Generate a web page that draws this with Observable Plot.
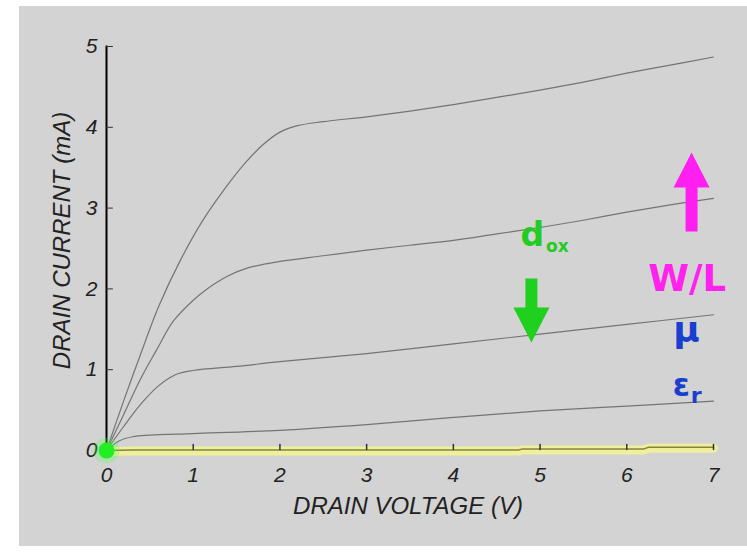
<!DOCTYPE html>
<html>
<head>
<meta charset="utf-8">
<script src="https://cdn.jsdelivr.net/npm/d3@7"></script>
<script src="https://cdn.jsdelivr.net/npm/@observablehq/plot@0.6"></script>
<style>
  html, body { margin: 0; padding: 0; background: #ffffff; }
  #wrap { position: relative; width: 747px; height: 555px; background: #ffffff; overflow: hidden; }
  #panel { position: absolute; left: 19px; top: 6px; width: 728px; height: 540px; background: #d3d3d3; }
  #chart { position: absolute; left: 0; top: 0; }
</style>
</head>
<body>
<div id="wrap"><div id="panel"></div><div id="chart"></div></div>
<script>
// ---- data ----
const xTicks = [0, 1, 2, 3, 4, 5, 6, 7];
const yTicks = [0, 1, 2, 3, 4, 5];
const xTitle = "DRAIN VOLTAGE (V)";
const yTitle = "DRAIN CURRENT (mA)";

const vA = [0, 0.2, 0.43, 0.6, 0.85, 1.1, 1.35, 1.6, 1.8, 2.0, 2.2, 2.5, 3, 3.5, 4, 4.5, 5, 5.5, 6, 6.5, 7];
const iA = [0, 0.62, 1.3, 1.78, 2.35, 2.83, 3.22, 3.56, 3.78, 3.94, 4.02, 4.07, 4.13, 4.2, 4.28, 4.37, 4.46, 4.56, 4.67, 4.77, 4.87];

const vB = [0, 0.2, 0.4, 0.57, 0.77, 1.0, 1.16, 1.4, 1.63, 2.0, 2.5, 3, 3.5, 4, 4.5, 5, 5.5, 6, 6.5, 7];
const iB = [0, 0.45, 0.9, 1.23, 1.6, 1.86, 2.0, 2.16, 2.26, 2.34, 2.41, 2.48, 2.54, 2.6, 2.68, 2.76, 2.85, 2.95, 3.04, 3.12];

const vC = [0, 0.2, 0.4, 0.6, 0.8, 1.0, 1.5, 2, 3, 4, 5, 6, 7];
const iC = [0, 0.3, 0.58, 0.8, 0.94, 0.99, 1.04, 1.1, 1.2, 1.32, 1.44, 1.56, 1.68];

const vD = [0, 0.15, 0.3, 0.5, 1, 2, 3, 4, 5, 6, 7];
const iD = [0, 0.12, 0.17, 0.19, 0.21, 0.25, 0.32, 0.41, 0.49, 0.55, 0.61];

const vE = [0, 0.3, 4.75, 4.8, 6.2, 6.25, 7];
const iE = [0, 0.005, 0.005, 0.02, 0.02, 0.04, 0.04];

// annotation labels and their anchor points (data units)
const annoLabels = ["d", "ox", "W/L", "\u03BC", "\u03B5", "r"];
const annoV = [4.91, 5.2, 6.696, 6.69, 6.63, 6.8];
const annoI = [2.667, 2.52, 2.116, 1.48, 0.80, 0.68];

// arrow tails (data units)
const arrowV = [4.90, 6.747];
const arrowI = [2.129, 2.71];

// ---- build tables ----
const zip = (vs, is) => vs.map((v, k) => ({v, i: is[k]}));
const curves = [zip(vA, iA), zip(vB, iB), zip(vC, iC), zip(vD, iD)];
const curveE = zip(vE, iE);

const blockArrow = (shaft, headW, headL) => ({
  draw(context, l) {
    const s = shaft / 2, h = headW / 2, b = -(l - headL);
    context.moveTo(-s, 0);
    context.lineTo(-s, b);
    context.lineTo(-h, b);
    context.lineTo(0, -l);
    context.lineTo(h, b);
    context.lineTo(s, b);
    context.lineTo(s, 0);
    context.closePath();
  }
});

const labelFont = "Liberation Sans, Arial, sans-serif";
const annoFont = "DejaVu Sans, sans-serif";
const idx = (k) => [k];
const tickLine = {draw(c, l) { c.moveTo(0, 0); c.lineTo(0, -l); }};

const marks = [
  // near-zero curve with yellow highlight
  Plot.line(curveE, {x: "v", y: "i", stroke: "#efef9e", strokeWidth: 9, curve: "linear", dy: 1}),
  Plot.line(curveE, {x: "v", y: "i", stroke: "#85853e", strokeWidth: 1.5, curve: "linear"}),
  // characteristic curves
  ...curves.map(c => Plot.line(c, {x: "v", y: "i", stroke: "#747474", strokeWidth: 1.2, curve: "catmull-rom"})),
  // y axis line
  Plot.frame({anchor: "left", stroke: "#000000", strokeWidth: 2}),
  // inward tick marks
  Plot.vector(yTicks, {x: 0, y: d => d, length: 6, rotate: 90, anchor: "start", stroke: "#333", strokeWidth: 1, shape: tickLine}),
  Plot.vector(xTicks.filter(d => d > 0), {x: d => d, y: 0, length: 5, rotate: 0, anchor: "start", dy: -1, stroke: "#333", strokeWidth: 1.5, shape: tickLine}),
  // tick labels
  Plot.axisY(yTicks, {tickSize: 0, tickPadding: 9, tickFormat: d3.format("d"), fontSize: 21, fontStyle: "italic", fontFamily: labelFont, fill: "#222", label: null}),
  Plot.axisX(xTicks, {tickSize: 0, tickPadding: 17, tickFormat: d3.format("d"), fontSize: 21, fontStyle: "italic", fontFamily: labelFont, fill: "#222", label: null}),
  // axis titles
  Plot.text([xTitle], {frameAnchor: "bottom", dx: -2, dy: 56, lineAnchor: "middle", textAnchor: "middle", fontSize: 24, fontStyle: "italic", fontFamily: labelFont, fill: "#222"}),
  Plot.text([yTitle], {frameAnchor: "left", dx: -44, dy: -8, rotate: -90, lineAnchor: "middle", textAnchor: "middle", fontSize: 24, fontStyle: "italic", fontFamily: labelFont, fill: "#222"}),
  // green dot at origin
  Plot.dot([0], {x: 0, y: 0, r: 13, fill: "#44ff44", fillOpacity: 0.25, stroke: "none"}),
  Plot.dot([0], {x: 0, y: 0, r: 8, fill: "#22ee22", stroke: "none"}),
  // arrows
  Plot.vector(idx(0), {x: k => arrowV[k], y: k => arrowI[k], length: 64, rotate: 180, anchor: "start", fill: "#1fd01f", stroke: "none", shape: blockArrow(12, 36, 35)}),
  Plot.vector(idx(1), {x: k => arrowV[k], y: k => arrowI[k], length: 79, rotate: 0, anchor: "start", fill: "#ff1ff0", stroke: "none", shape: blockArrow(12, 36, 35)}),
  // annotation texts
  Plot.text(idx(0), {x: k => annoV[k], y: k => annoI[k], text: k => annoLabels[k], fontSize: 33, fontWeight: "bold", fontFamily: annoFont, fill: "#22cc22", lineAnchor: "middle"}),
  Plot.text(idx(1), {x: k => annoV[k], y: k => annoI[k], text: k => annoLabels[k], fontSize: 17, fontWeight: "bold", fontFamily: annoFont, fill: "#22cc22", lineAnchor: "middle"}),
  Plot.text(idx(2), {x: k => annoV[k], y: k => annoI[k], text: k => annoLabels[k], fontSize: 37, fontWeight: "bold", fontFamily: annoFont, fill: "#ff22ee", lineAnchor: "middle"}),
  Plot.text(idx(3), {x: k => annoV[k], y: k => annoI[k], text: k => annoLabels[k], fontSize: 36, fontWeight: "bold", fontFamily: annoFont, fill: "#1a3fcf", lineAnchor: "middle"}),
  Plot.text(idx(4), {x: k => annoV[k], y: k => annoI[k], text: k => annoLabels[k], fontSize: 31, fontWeight: "bold", fontFamily: annoFont, fill: "#1a3fcf", lineAnchor: "middle"}),
  Plot.text(idx(5), {x: k => annoV[k], y: k => annoI[k], text: k => annoLabels[k], fontSize: 22, fontWeight: "bold", fontFamily: annoFont, fill: "#1a3fcf", lineAnchor: "middle"})
];

const chart = Plot.plot({
  width: 747,
  height: 555,
  marginLeft: 106,
  marginRight: 34,
  marginTop: 46,
  marginBottom: 105,
  style: {background: "transparent", overflow: "visible"},
  x: {domain: [0, 7], axis: null},
  y: {domain: [0, 5], axis: null},
  marks
});
document.getElementById("chart").appendChild(chart);
</script>
</body>
</html>
